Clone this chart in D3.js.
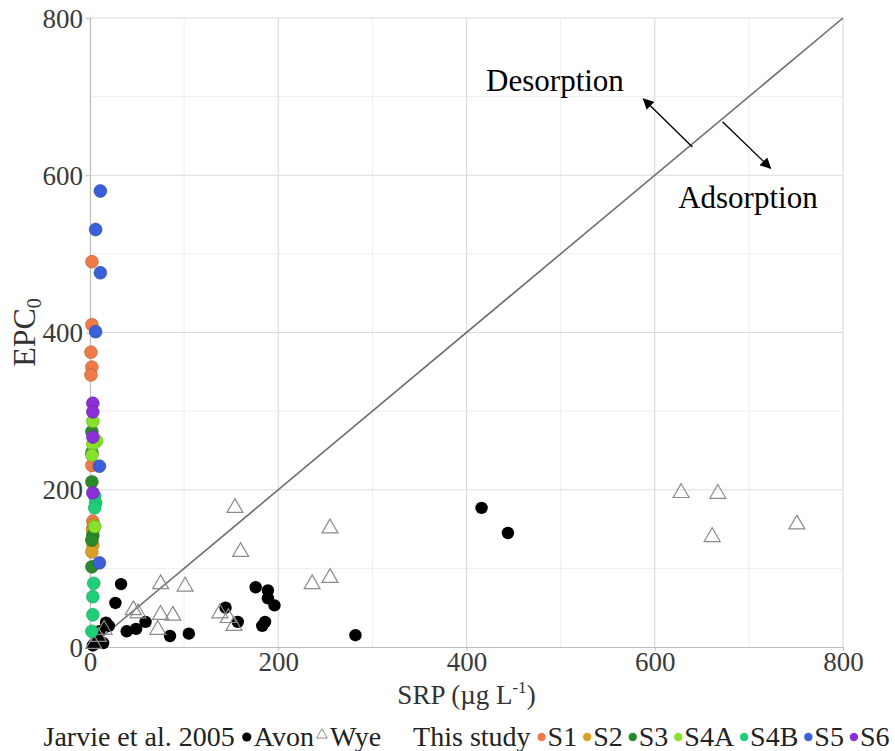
<!DOCTYPE html>
<html>
<head>
<meta charset="utf-8">
<script src="https://cdn.jsdelivr.net/npm/d3@7"></script>
<style>
  html, body { margin: 0; padding: 0; background: #fff; }
  svg { display: block; font-family: "Liberation Serif", "Times New Roman", serif; }
</style>
</head>
<body>
<svg id="chart" width="895" height="751"></svg>
<script>
// EPC0 vs SRP — literature (Jarvie et al. 2005) and this study's sites
const xTicks = [0, 200, 400, 600, 800];
const yTicks = [0, 200, 400, 600, 800];
const minorTicks = [100, 300, 500, 700];

// Jarvie et al. 2005: River Avon (filled circles), River Wye (open triangles) — [SRP, EPC0]
const avon = [[33,80],[27,56],[17,31],[20,27],[10,20],[39,20],[49,23],[59,32],[85,14],[105,17],
  [144,50],[157,32],[176,76],[189,72],[189,62],[196,53],[186,32],[183,27],[282,15],[416,177],
  [444,145],[8,6],[5,4],[14,5],[3,2]];
const wye = [[154,177],[160,121],[255,151],[255,88],[236,80],[75,80],[101,77],[46,47],[51,43],
  [75,41],[88,40],[72,22],[138,43],[147,37],[153,27],[628,196],[667,195],[661,140],[751,156],
  [9,13],[15,22],[4,4]];

// This study, by site — [SRP, EPC0]
const siteNames = ["S1", "S2", "S3", "S4A", "S4B", "S5", "S6"];
const siteColors = ["#ee7b48", "#d9a028", "#2a8a2a", "#86e22a", "#1fcf78", "#3a5fd6", "#8a30d6"];
const s1 = [[2,490],[2,410],[1,375],[2,356],[1,346],[2,231],[3,160],[3,151]];
const s2 = [[4,155],[3,148],[3,130],[2,121]];
const s3 = [[2,274],[2,247],[2,210],[3,142],[2,136],[2,102]];
const s4a = [[3,287],[7,262],[3,258],[2,244],[5,153]];
const s4b = [[5,192],[6,183],[5,177],[4,81],[3,64],[3,41],[2,20]];
const s5 = [[11,580],[6,531],[11,476],[6,401],[10,230],[10,107]];
const s6 = [[3,310],[3,299],[3,267],[3,196]];
const siteData = [s1, s2, s3, s4a, s4b, s5, s6];

// 1:1 line and process annotations
const oneToOne = [[0,0],[800,800]];
const desorptionArrow = [[640,636],[588,697]];
const adsorptionArrow = [[672,668],[723,609]];
const labels = [{text: "Desorption", at: [494,721]}, {text: "Adsorption", at: [699,572]}];

const svg = d3.select("#chart");
const margin = {left: 90, top: 18, right: 52, bottom: 104};
const W = 895 - margin.left - margin.right;
const H = 751 - margin.top - margin.bottom;

const x = d3.scaleLinear().domain([0, 800]).range([0, W]);
const y = d3.scaleLinear().domain([0, 800]).range([H, 0]);

const defs = svg.append("defs");
defs.append("marker").attr("id", "arrowhead")
  .attr("viewBox", "0 0 10 10").attr("refX", 9).attr("refY", 5)
  .attr("markerWidth", 11).attr("markerHeight", 11).attr("orient", "auto-start-reverse")
  .attr("markerUnits", "userSpaceOnUse")
  .append("path").attr("d", "M0,0 L10,5 L0,10 z").attr("fill", "#000");

const g = svg.append("g").attr("transform", `translate(${margin.left},${margin.top})`);

// grid
g.append("g").selectAll("line.vmin").data(minorTicks).join("line")
  .attr("x1", d => x(d)).attr("x2", d => x(d)).attr("y1", 0).attr("y2", H)
  .attr("stroke", "#eeeeee").attr("stroke-width", 1);
g.append("g").selectAll("line.hmin").data(minorTicks).join("line")
  .attr("y1", d => y(d)).attr("y2", d => y(d)).attr("x1", 0).attr("x2", W)
  .attr("stroke", "#eeeeee").attr("stroke-width", 1);
g.append("g").selectAll("line.vmaj").data(xTicks.slice(1)).join("line")
  .attr("x1", d => x(d)).attr("x2", d => x(d)).attr("y1", 0).attr("y2", H)
  .attr("stroke", "#dcdcdc").attr("stroke-width", 1.2);
g.append("g").selectAll("line.hmaj").data(yTicks.slice(1)).join("line")
  .attr("y1", d => y(d)).attr("y2", d => y(d)).attr("x1", 0).attr("x2", W)
  .attr("stroke", "#dcdcdc").attr("stroke-width", 1.2);

// axes
const xAxis = g.append("g").attr("transform", `translate(0,${H})`)
  .call(d3.axisBottom(x).tickValues(xTicks).tickSize(4).tickPadding(1));
const yAxis = g.append("g")
  .call(d3.axisLeft(y).tickValues(yTicks).tickSize(4).tickPadding(3));
[xAxis, yAxis].forEach(a => {
  a.attr("font-family", null);
  a.select(".domain").attr("stroke", "#bdbdbd").attr("stroke-width", 1.2);
  a.selectAll(".tick line").attr("stroke", "#bdbdbd");
  a.selectAll("text").attr("font-family", "Liberation Serif").attr("font-size", 27).attr("fill", "#3a3a3a");
});
yAxis.selectAll("text").attr("dy", "0.34em");

// 1:1 line
const line = d3.line().x(d => x(d[0])).y(d => y(d[1]));
g.append("path").datum(oneToOne).attr("d", line)
  .attr("fill", "none").attr("stroke", "#6e6e6e").attr("stroke-width", 1.6);

// arrows
[desorptionArrow, adsorptionArrow].forEach(a => {
  g.append("path").datum(a).attr("d", line)
    .attr("stroke", "#000").attr("stroke-width", 1.4).attr("fill", "none")
    .attr("marker-end", "url(#arrowhead)");
});
g.selectAll("text.note").data(labels).join("text")
  .attr("x", d => x(d.at[0])).attr("y", d => y(d.at[1]))
  .attr("text-anchor", "middle").attr("dominant-baseline", "central")
  .attr("font-size", 31).attr("fill", "#000").text(d => d.text);

// literature points
g.append("g").selectAll("circle").data(avon).join("circle")
  .attr("cx", d => x(d[0])).attr("cy", d => y(d[1])).attr("r", 6.2)
  .attr("fill", "#000");
const tri = d3.symbol().type(d3.symbolTriangle).size(110);
g.append("g").selectAll("path").data(wye).join("path")
  .attr("transform", d => `translate(${x(d[0])},${y(d[1])})`)
  .attr("d", tri).attr("fill", "none").attr("stroke", "#8a8a8a").attr("stroke-width", 1.2);

// this study's points
siteData.forEach((pts, i) => {
  const col = siteColors[i];
  g.append("g").selectAll("circle").data(pts).join("circle")
    .attr("cx", d => x(d[0])).attr("cy", d => y(d[1])).attr("r", 6.4)
    .attr("fill", col).attr("stroke", d3.color(col).darker(0.8)).attr("stroke-width", 0.6);
});

// axis titles
const xt = svg.append("text").attr("x", margin.left + W / 2).attr("y", 704)
  .attr("text-anchor", "middle").attr("font-size", 27).attr("fill", "#333");
xt.append("tspan").text("SRP (µg L");
xt.append("tspan").attr("font-size", 17).attr("dy", -11).text("-1");
xt.append("tspan").attr("dy", 11).text(")");

const yt = svg.append("text").attr("transform", `translate(35,${margin.top + H / 2}) rotate(-90)`)
  .attr("text-anchor", "middle").attr("font-size", 32).attr("fill", "#333");
yt.append("tspan").text("EPC");
yt.append("tspan").attr("font-size", 20).attr("dy", 6).text("0");

// legend
const leg = svg.append("g").attr("font-size", 28).attr("fill", "#222");
const legY = 737;
let cx = 0;
const items = [];
function addText(t, gap) { items.push({type: "text", t, gap}); }
function addSym(kind, color, gap) { items.push({type: kind, color, gap}); }
addText("Jarvie et al. 2005", 0);
addSym("dot", "#000", 7);
addText("Avon", 2);
addSym("tri", "#8a8a8a", 2);
addText("Wye", 2);
addText("This study", 32);
siteNames.forEach((n, i) => { addSym("dot", siteColors[i], i === 0 ? 6 : 5); addText(n, 1); });

const lg = leg.append("g");
items.forEach(it => {
  cx += it.gap;
  if (it.type === "text") {
    const t = lg.append("text").attr("x", cx).attr("y", legY + 9).text(it.t);
    cx += t.node().getComputedTextLength();
  } else if (it.type === "dot") {
    lg.append("circle").attr("cx", cx + 5).attr("cy", legY).attr("r", 4.6)
      .attr("fill", it.color).attr("stroke", it.color === "#000" ? "none" : "#fff").attr("stroke-width", 0.8);
    cx += 10;
  } else {
    lg.append("path").attr("transform", `translate(${cx + 6},${legY - 2})`)
      .attr("d", d3.symbol().type(d3.symbolTriangle).size(50)())
      .attr("fill", "none").attr("stroke", it.color).attr("stroke-width", 1);
    cx += 12;
  }
});
lg.attr("transform", `translate(${40 + (853 - cx) / 2},0)`);
</script>
</body>
</html>
